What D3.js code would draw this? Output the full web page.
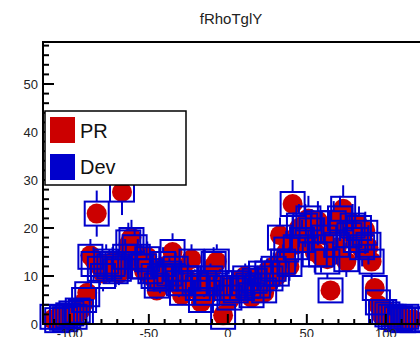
<!DOCTYPE html>
<html>
<head>
<meta charset="utf-8">
<script src="https://cdn.jsdelivr.net/npm/d3@7"></script>
<style>
  body { margin: 0; background: #fff; }
  svg { display: block; font-family: "Liberation Sans", Arial, sans-serif; }
</style>
</head>
<body>
<div id="chart"></div>
<script>
// bin centres (x) and contents
var binX = [-111, -108, -105, -103, -101, -99, -97, -95, -93, -91, -89, -87, -85, -83, -81, -79, -77, -75, -73, -71,
    -69, -67, -65, -63, -61, -59, -57, -55, -53, -51, -49, -47, -45, -43, -41, -39, -37, -35, -33, -31,
    -29, -27, -25, -23, -21, -19, -17, -15, -13, -11, -9, -7, -5, -3, -1, 1, 3, 5, 7, 9,
    11, 13, 15, 17, 19, 21, 23, 25, 27, 29, 31, 33, 35, 37, 39, 41, 43, 45, 47, 49,
    51, 53, 55, 57, 59, 61, 63, 65, 67, 69, 71, 73, 75, 77, 79, 81, 83, 85, 87, 89,
    91, 93, 95, 97, 99, 101, 103, 105, 107, 109, 111, 113, 115, 117];

var prValues = [1.0, 1.2, 0.8, 1.5, 2.0, 1.3, 2.5, 2.3, 3.0, 4.5, 6.5, 14.3, 13.5, 23.0, 12.0, 10.5, 12.5, 11.0, 13.0, 12.0,
    10.5, 27.5, 13.5, 16.5, 18.0, 15.0, 13.0, 12.5, 11.0, 14.0, 10.0, 9.5, 7.0, 10.0, 12.0, 9.0, 11.0, 15.0, 12.0, 8.0,
    6.0, 10.0, 9.0, 13.5, 8.0, 7.0, 4.5, 9.0, 6.0, 10.0, 12.0, 13.0, 8.0, 1.8, 7.0, 5.0, 8.0, 6.5, 9.0, 7.0,
    10.0, 8.5, 5.5, 9.5, 7.5, 10.0, 6.5, 11.0, 9.0, 12.0, 10.0, 18.5, 13.5, 15.0, 12.0, 25.0, 16.5, 20.0, 17.0, 21.0,
    22.0, 19.0, 15.0, 21.5, 14.0, 18.5, 13.5, 7.0, 20.5, 16.0, 22.5, 24.0, 13.0, 19.0, 21.0, 17.0, 20.5, 15.5, 19.5, 16.0,
    13.0, 7.5, 4.0, 2.0, 3.0, 1.5, 2.0, 1.0, 1.5, 0.8, 1.2, 1.0, 0.6, 1.0];

var devValues = [1.5, 0.8, 1.3, 1.0, 1.8, 2.2, 1.5, 2.8, 2.5, 5.0, 6.2, 14.0, 12.5, 23.0, 11.5, 10.0, 13.0, 12.0, 12.5, 11.0,
    11.5, 28.0, 14.0, 17.0, 17.5, 16.0, 14.0, 12.0, 12.0, 13.5, 11.0, 10.0, 8.0, 9.5, 12.5, 9.5, 10.5, 15.0, 11.5, 8.5,
    6.5, 9.5, 9.5, 13.0, 8.5, 7.5, 5.0, 8.5, 6.5, 9.5, 12.5, 13.0, 8.5, 1.5, 7.5, 5.5, 7.5, 7.0, 8.5, 7.5,
    9.5, 8.0, 6.0, 9.0, 8.0, 10.5, 7.0, 10.5, 9.5, 11.5, 10.5, 18.0, 13.0, 15.5, 12.5, 25.0, 16.0, 20.5, 17.5, 20.5,
    22.0, 19.5, 14.5, 21.0, 14.5, 18.0, 13.0, 7.0, 21.0, 16.5, 22.0, 24.0, 13.5, 18.5, 20.5, 17.5, 20.0, 16.0, 19.0, 16.5,
    13.0, 7.5, 4.5, 2.5, 2.5, 2.0, 1.5, 1.5, 1.0, 1.2, 0.8, 1.5, 1.0, 0.8];

var devErrors = [1.2, 0.9, 1.1, 1.0, 1.3, 1.5, 1.2, 1.7, 1.6, 2.2, 2.5, 3.7, 3.5, 4.8, 3.4, 3.2, 3.6, 3.5, 3.5, 3.3,
    3.4, 5.3, 3.7, 4.1, 4.2, 4.0, 3.7, 3.5, 3.5, 3.7, 3.3, 3.2, 2.8, 3.1, 3.5, 3.1, 3.2, 3.9, 3.4, 2.9,
    2.5, 3.1, 3.1, 3.6, 2.9, 2.7, 2.2, 2.9, 2.5, 3.1, 3.5, 3.6, 2.9, 1.2, 2.7, 2.3, 2.7, 2.6, 2.9, 2.7,
    3.1, 2.8, 2.4, 3.0, 2.8, 3.2, 2.6, 3.2, 3.1, 3.4, 3.2, 4.2, 3.6, 3.9, 3.5, 5.0, 4.0, 4.5, 4.2, 4.5,
    4.7, 4.4, 3.8, 4.6, 3.8, 4.2, 3.6, 2.6, 4.6, 4.1, 4.7, 4.9, 3.7, 4.3, 4.5, 4.2, 4.5, 4.0, 4.4, 4.1,
    3.6, 2.7, 2.1, 1.6, 1.6, 1.4, 1.2, 1.2, 1.0, 1.1, 0.9, 1.2, 1.0, 0.9];

var seriesNames = ["PR", "Dev"];
var seriesColors = ["#cc0000", "#0000cc"];
var chartTitle = "fRhoTglY";

var width = 420, height = 337;
var plotLeft = 43, plotTop = 42, plotBottom = 324;

var x = d3.scaleLinear().domain([-117, 121]).range([plotLeft, 419]);
var y = d3.scaleLinear().domain([0, 58.75]).range([plotBottom, plotTop]);

var svg = d3.select("#chart").append("svg")
    .attr("width", width)
    .attr("height", height);

var plot = svg.append("g");

var pr = binX.map(function(v, i) { return {x: v, y: prValues[i]}; });
var dev = binX.map(function(v, i) { return {x: v, y: devValues[i], e: devErrors[i]}; });

// PR: full red circles
plot.selectAll(".pr")
    .data(pr)
    .enter().append("circle")
    .attr("class", "pr")
    .attr("cx", function(d) { return x(d.x); })
    .attr("cy", function(d) { return y(d.y); })
    .attr("r", 10)
    .attr("fill", seriesColors[0]);

// Dev: open blue squares with error bars (gap at marker)
var half = 12;
var devG = plot.selectAll(".dev")
    .data(dev)
    .enter().append("g")
    .attr("class", "dev");

devG.append("rect")
    .attr("x", function(d) { return x(d.x) - half; })
    .attr("y", function(d) { return y(d.y) - half; })
    .attr("width", half * 2)
    .attr("height", half * 2)
    .attr("fill", "none")
    .attr("stroke", seriesColors[1])
    .attr("stroke-width", 2);

devG.filter(function(d) { return y(d.y) - y(d.y + d.e) > half; })
    .append("line")
    .attr("x1", function(d) { return x(d.x); })
    .attr("x2", function(d) { return x(d.x); })
    .attr("y1", function(d) { return y(d.y) - half; })
    .attr("y2", function(d) { return y(d.y + d.e); })
    .attr("stroke", seriesColors[1])
    .attr("stroke-width", 2);

devG.filter(function(d) { return y(d.y - d.e) - y(d.y) > half; })
    .append("line")
    .attr("x1", function(d) { return x(d.x); })
    .attr("x2", function(d) { return x(d.x); })
    .attr("y1", function(d) { return y(d.y) + half; })
    .attr("y2", function(d) { return y(d.y - d.e); })
    .attr("stroke", seriesColors[1])
    .attr("stroke-width", 2);

// frame
svg.append("path")
    .attr("d", "M" + (width + 2) + "," + plotTop + "H" + plotLeft + "V" + plotBottom + "H" + (width + 2))
    .attr("fill", "none")
    .attr("stroke", "#000")
    .attr("stroke-width", 2);

// y ticks
var yMinor = d3.range(0, 59, 2);
svg.selectAll(".ytick")
    .data(yMinor)
    .enter().append("line")
    .attr("x1", plotLeft)
    .attr("x2", function(d) { return d % 10 === 0 ? plotLeft + 11 : plotLeft + 6; })
    .attr("y1", function(d) { return y(d); })
    .attr("y2", function(d) { return y(d); })
    .attr("stroke", "#000")
    .attr("stroke-width", 2);

svg.selectAll(".ylab")
    .data(d3.range(0, 51, 10))
    .enter().append("text")
    .attr("x", 38)
    .attr("y", function(d) { return y(d) + 5; })
    .attr("text-anchor", "end")
    .attr("font-size", 13)
    .attr("fill", "#222")
    .text(function(d) { return d; });

// x ticks
var xMinor = d3.range(-110, 121, 10);
svg.selectAll(".xtick")
    .data(xMinor)
    .enter().append("line")
    .attr("x1", function(d) { return x(d); })
    .attr("x2", function(d) { return x(d); })
    .attr("y1", plotBottom)
    .attr("y2", function(d) { return d % 50 === 0 ? plotBottom - 10 : plotBottom - 5; })
    .attr("stroke", "#000")
    .attr("stroke-width", 2);

svg.selectAll(".xlab")
    .data(d3.range(-100, 101, 50))
    .enter().append("text")
    .attr("x", function(d) { return x(d); })
    .attr("y", 338)
    .attr("text-anchor", "middle")
    .attr("font-size", 13)
    .attr("fill", "#222")
    .text(function(d) { return d; });

// title
svg.append("text")
    .attr("x", 231)
    .attr("y", 24)
    .attr("text-anchor", "middle")
    .attr("font-size", 15)
    .attr("fill", "#222")
    .text(chartTitle);

// legend
var leg = svg.append("g");
leg.append("rect")
    .attr("x", 45).attr("y", 111)
    .attr("width", 141).attr("height", 74)
    .attr("fill", "#fff")
    .attr("stroke", "#000")
    .attr("stroke-width", 1.5);

seriesNames.forEach(function(name, i) {
    leg.append("rect")
        .attr("x", 50).attr("y", 117 + i * 37)
        .attr("width", 25).attr("height", 26)
        .attr("fill", seriesColors[i]);
    leg.append("text")
        .attr("x", 80).attr("y", 138 + i * 36)
        .attr("font-size", 20)
        .attr("fill", "#111")
        .text(name);
});
</script>
</body>
</html>
